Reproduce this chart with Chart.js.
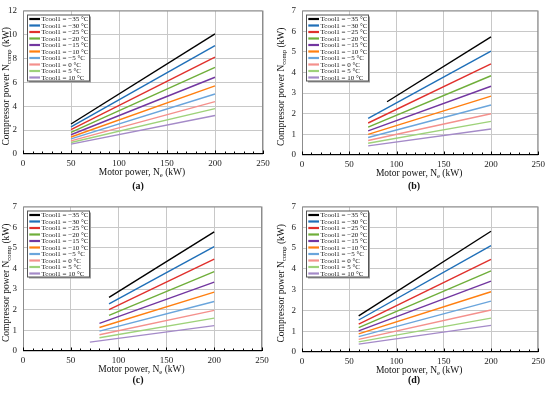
<!DOCTYPE html>
<html>
<head>
<meta charset="utf-8">
<script src="https://cdn.jsdelivr.net/npm/chart.js@4.4.1/dist/chart.umd.min.js"></script>
<style>
  body { margin: 0; background: #fff; }
  #wrap { position: relative; width: 550px; height: 393px; overflow: hidden; }
  canvas { position: absolute; }
  .tag { position: absolute; font-family: "Liberation Serif", serif; font-weight: bold; font-size: 10px; transform: translate(-50%, -50%); color: #111; }
</style>
</head>
<body>
<div id="wrap">
  <canvas id="chartA" width="275" height="180" style="left:0;top:0"></canvas>
  <canvas id="chartB" width="275" height="180" style="left:275px;top:0"></canvas>
  <canvas id="chartC" width="275" height="180" style="left:0;top:196px"></canvas>
  <canvas id="chartD" width="275" height="180" style="left:275px;top:196px"></canvas>
  <div class="tag" style="left:138px;top:185px">(a)</div>
  <div class="tag" style="left:414px;top:185px">(b)</div>
  <div class="tag" style="left:138px;top:379px">(c)</div>
  <div class="tag" style="left:414px;top:379px">(d)</div>
</div>
<script>
// series shared by all four panels
const seriesLabels = [
  "Tcool1 = \u221235 \u00b0C", "Tcool1 = \u221230 \u00b0C", "Tcool1 = \u221225 \u00b0C",
  "Tcool1 = \u221220 \u00b0C", "Tcool1 = \u221215 \u00b0C", "Tcool1 = \u221210 \u00b0C",
  "Tcool1 = \u22125 \u00b0C", "Tcool1 = 0 \u00b0C", "Tcool1 = 5 \u00b0C", "Tcool1 = 10 \u00b0C"
];
const seriesColors = [
  "#000000", "#1f6fb8", "#e0302c", "#6fae3a", "#7236a0",
  "#ff7f10", "#6aa5dc", "#f4908c", "#9ed27a", "#a48ac8"
];
const endPower = 200;
const xTicks = [0, 50, 100, 150, 200, 250];

// (a)
const startPowerA = [50, 50, 50, 50, 50, 50, 50, 50, 50, 50];
const startCompA = [2.51, 2.27, 2.03, 1.81, 1.61, 1.42, 1.26, 1.10, 0.96, 0.83];
const endCompA = [10.04, 9.07, 8.10, 7.25, 6.42, 5.69, 5.02, 4.38, 3.79, 3.22];
// (b)
const startPowerB = [90, 70, 70, 70, 70, 70, 70, 70, 70, 70];
const startCompB = [2.58, 1.77, 1.55, 1.35, 1.17, 1.00, 0.85, 0.70, 0.57, 0.44];
const endCompB = [5.72, 5.03, 4.42, 3.84, 3.33, 2.85, 2.42, 2.00, 1.63, 1.26];
// (c)
const startPowerC = [90, 90, 90, 90, 80, 80, 80, 80, 80, 70];
const startCompC = [2.60, 2.28, 2.00, 1.73, 1.34, 1.14, 0.96, 0.79, 0.64, 0.43];
const endCompC = [5.77, 5.06, 4.45, 3.85, 3.34, 2.85, 2.40, 1.97, 1.59, 1.23];
// (d)
const startPowerD = [60, 60, 60, 60, 60, 60, 60, 60, 60, 60];
const startCompD = [1.74, 1.54, 1.34, 1.17, 1.02, 0.87, 0.74, 0.61, 0.49, 0.38];
const endCompD = [5.81, 5.12, 4.46, 3.90, 3.41, 2.90, 2.45, 2.02, 1.63, 1.28];

const SERIF = '"Liberation Serif", "Times New Roman", serif';

// draw text made of normal and subscript pieces, centred on (0,0) of the current transform
function drawParts(ctx, parts, size) {
  const subSize = size * 0.7;
  let total = 0;
  parts.forEach(p => {
    ctx.font = (p[1] ? subSize : size) + 'px ' + SERIF;
    total += ctx.measureText(p[0]).width;
  });
  let x = -total / 2;
  ctx.textBaseline = 'middle';
  ctx.textAlign = 'left';
  parts.forEach(p => {
    ctx.font = (p[1] ? subSize : size) + 'px ' + SERIF;
    ctx.fillText(p[0], x, p[1] ? size * 0.3 : 0);
    x += ctx.measureText(p[0]).width;
  });
}

const decorPlugin = {
  id: 'decor',
  afterDraw(chart) {
    const ctx = chart.ctx;
    const a = chart.chartArea;
    const xs = chart.scales.x;
    const o = chart.options.plugins.decor;
    ctx.save();

    // plot frame
    ctx.strokeStyle = '#8c8c8c';
    ctx.lineWidth = 1;
    ctx.beginPath();
    ctx.moveTo(a.left + 0.5, a.bottom);
    ctx.lineTo(a.left + 0.5, a.top + 0.5);
    ctx.lineTo(a.right - 0.5, a.top + 0.5);
    ctx.lineTo(a.right - 0.5, a.bottom);
    ctx.stroke();

    // x axis line and inward ticks
    ctx.strokeStyle = '#000';
    ctx.beginPath();
    ctx.moveTo(a.left, a.bottom - 0.5);
    ctx.lineTo(a.right, a.bottom - 0.5);
    for (let v = 0; v <= 250; v += 10) {
      const px = Math.round(xs.getPixelForValue(v)) + 0.5;
      ctx.moveTo(px, a.bottom);
      ctx.lineTo(px, a.bottom - (v % 50 ? 2.5 : 3.5));
    }
    ctx.stroke();

    // legend box
    const bx = a.left + 4.5, by = a.top + 4.5, bw = 62, bh = 66;
    ctx.fillStyle = '#9a9a9a';
    ctx.fillRect(bx + 1.5, by + 1.5, bw, bh);
    ctx.fillStyle = '#fff';
    ctx.fillRect(bx, by, bw, bh);
    ctx.strokeStyle = '#555';
    ctx.lineWidth = 1;
    ctx.strokeRect(bx, by, bw, bh);
    ctx.font = '7px ' + SERIF;
    ctx.textBaseline = 'middle';
    ctx.textAlign = 'left';
    seriesLabels.forEach((label, i) => {
      const ry = by + 4 + i * 6.5;
      ctx.strokeStyle = seriesColors[i];
      ctx.lineWidth = 2.2;
      ctx.beginPath();
      ctx.moveTo(bx + 1.8, ry);
      ctx.lineTo(bx + 12.5, ry);
      ctx.stroke();
      ctx.fillStyle = '#111';
      ctx.fillText(label, bx + 14, ry + 0.5);
    });

    // axis titles with subscripts
    ctx.fillStyle = '#111';
    ctx.save();
    ctx.translate((a.left + a.right) / 2 - 1, a.bottom + o.xTitleGap);
    drawParts(ctx, [['Motor power, N', false], ['e', true], [' (kW)', false]], 9.5);
    ctx.restore();
    ctx.save();
    ctx.translate(o.yTitleX, (a.top + a.bottom) / 2 + 4);
    ctx.rotate(-Math.PI / 2);
    drawParts(ctx, [['Compressor power N', false], ['comp', true], [' (kW)', false]], 9.5);
    ctx.restore();

    ctx.restore();
  }
};

function buildDatasets(starts, startVals, endVals) {
  return seriesLabels.map((label, i) => ({
    label: label,
    data: [{x: starts[i], y: startVals[i]}, {x: endPower, y: endVals[i]}],
    borderColor: seriesColors[i],
    backgroundColor: seriesColors[i],
    borderWidth: 1.4,
    showLine: true,
    pointRadius: 0
  }));
}

function drawPanel(canvasId, starts, startVals, endVals, yMax, yStep, box) {
  const ctx = document.getElementById(canvasId).getContext('2d');
  return new Chart(ctx, {
    type: 'scatter',
    data: { datasets: buildDatasets(starts, startVals, endVals) },
    options: {
      responsive: false,
      animation: false,
      layout: { padding: { left: 0, right: box.right, top: box.top, bottom: 0 } },
      scales: {
        x: {
          type: 'linear',
          min: 0,
          max: 250,
          afterBuildTicks: scale => { scale.ticks = xTicks.map(v => ({ value: v })); },
          afterFit: scale => { scale.height = box.bottomH; },
          grid: { color: '#c8c8c8', drawTicks: false },
          border: { display: false },
          ticks: { padding: 5, color: '#222', maxRotation: 0, font: { family: SERIF, size: 9, lineHeight: 1 } }
        },
        y: {
          min: 0,
          max: yMax,
          ticks: { stepSize: yStep, padding: 6, color: '#222', font: { family: SERIF, size: 9, lineHeight: 1 } },
          afterFit: scale => { scale.width = box.leftW; },
          grid: { color: '#c8c8c8', drawTicks: false },
          border: { display: false }
        }
      },
      plugins: {
        legend: { display: false },
        tooltip: { enabled: false },
        decor: { xTitleGap: box.xTitleGap, yTitleX: 6 }
      }
    },
    plugins: [decorPlugin]
  });
}

drawPanel('chartA', startPowerA, startCompA, endCompA, 12, 2,
  { leftW: 23, right: 12, top: 5, bottomH: 26, xTitleGap: 18.5 });
drawPanel('chartB', startPowerB, startCompB, endCompB, 7, 1,
  { leftW: 27, right: 8, top: 4, bottomH: 25, xTitleGap: 18 });
drawPanel('chartC', startPowerC, startCompC, endCompC, 7, 1,
  { leftW: 23, right: 13, top: 7, bottomH: 25, xTitleGap: 18 });
drawPanel('chartD', startPowerD, startCompD, endCompD, 7, 1,
  { leftW: 27, right: 8, top: 5, bottomH: 24, xTitleGap: 18 });
</script>
</body>
</html>
